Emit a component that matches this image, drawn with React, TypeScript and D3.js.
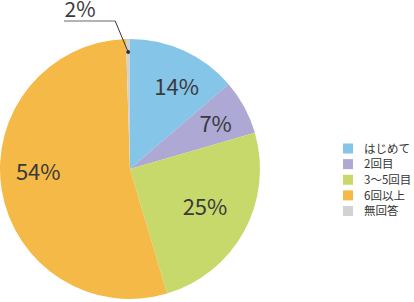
import React from "react";
import * as d3 from "d3";

const categories = ["はじめて", "2回目", "3〜5回目", "6回以上", "無回答"];
const values = [13.7, 6.8, 24.9, 54.1, 0.5];
const valueLabels = ["14%", "7%", "25%", "54%", "2%"];
const colors = ["#85C5E7", "#ADA8D4", "#C7D96B", "#F4B947", "#D2D2D2"];

const W = 414;
const H = 302;
const cx = 130;
const cy = 169;
const R = 130;
const FONT = "'Noto Sans CJK JP', 'Noto Sans', sans-serif";
// small layout nudges for the inside labels
const nudges: [number, number][] = [
  [7.5, 3],
  [3, 0],
  [-7.5, -6.5],
  [1, -11.5],
];

export default function App() {
  if (typeof document !== "undefined") document.body.style.margin = "0";
  const pie = d3
    .pie<number>()
    .sort(null)
    .value((d) => d);
  const arcs = pie(values);
  const arc = d3.arc<d3.PieArcDatum<number>>().innerRadius(0).outerRadius(R);
  const labelArc = d3
    .arc<d3.PieArcDatum<number>>()
    .innerRadius(R * 0.723)
    .outerRadius(R * 0.723);
  const dotArc = d3
    .arc<d3.PieArcDatum<number>>()
    .innerRadius(R * 0.9)
    .outerRadius(R * 0.9);

  const last = arcs[arcs.length - 1];
  const [dx0, dy0] = dotArc.centroid(last);
  const dot = [cx + dx0, cy + dy0];
  const elbow = [dot[0] - 13, 21];
  const lineEnd = [64, 21];

  const legendY = d3
    .scalePoint<string>()
    .domain(categories)
    .range([148.5, 211]);

  return (
    <svg
      width={W}
      height={H}
      style={{ position: "absolute", left: 0, top: 0, display: "block" }}
    >
      <g transform={`translate(${cx},${cy})`}>
        {arcs.map((a, i) => (
          <path key={i} d={arc(a) || ""} fill={colors[i]} />
        ))}
        {arcs.slice(0, 4).map((a, i) => {
          const [x, y] = labelArc.centroid(a);
          return (
            <text
              key={i}
              x={x + nudges[i][0]}
              y={y + nudges[i][1]}
              dy="0.36em"
              textAnchor="middle"
              fontFamily={FONT}
              fontSize={22}
              fill="#3a3a3a"
            >
              {valueLabels[i]}
            </text>
          );
        })}
      </g>
      <line
        x1={lineEnd[0]}
        y1={lineEnd[1]}
        x2={elbow[0]}
        y2={elbow[1]}
        stroke="#9a9a9a"
        strokeWidth={1.6}
      />
      <line
        x1={elbow[0]}
        y1={elbow[1]}
        x2={dot[0]}
        y2={dot[1]}
        stroke="#333"
        strokeWidth={1}
      />
      <circle cx={dot[0]} cy={dot[1]} r={2} fill="#333" />
      <text x={64.5} y={16.5} fontFamily={FONT} fontSize={21} fill="#3a3a3a">
        {valueLabels[4]}
      </text>
      <g>
        {categories.map((c, i) => {
          const y = legendY(c) as number;
          return (
            <g key={c}>
              <rect x={343} y={y - 5} width={10} height={10} fill={colors[i]} />
              <text
                x={364}
                y={y}
                dy="0.36em"
                fontFamily={FONT}
                fontSize={11.5}
                fill="#333"
              >
                {c}
              </text>
            </g>
          );
        })}
      </g>
    </svg>
  );
}
